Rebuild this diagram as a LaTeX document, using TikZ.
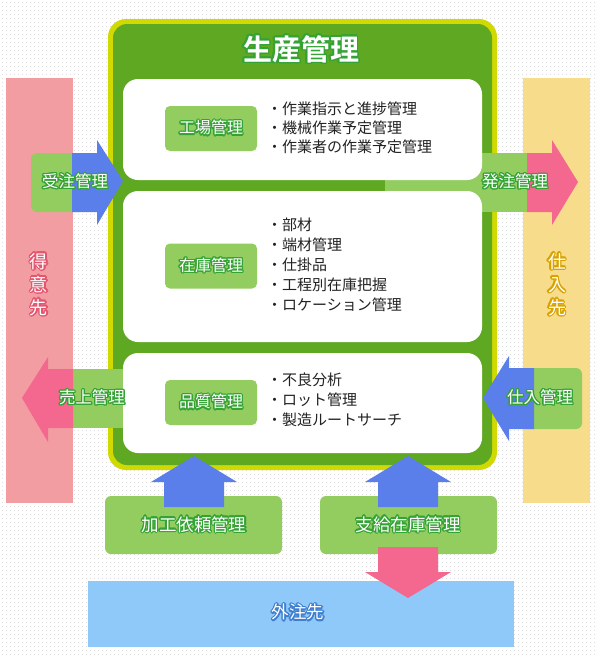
\documentclass[tikz,border=0pt]{standalone}
\usepackage{fontspec}
\setmainfont{Noto Sans CJK JP}
\newfontfamily\jpbold{Noto Sans CJK JP Bold}
\usepackage{contour}
\contournumber{16}
\contourlength{1.3pt}
\usetikzlibrary{patterns.meta}
\definecolor{frameyellow}{HTML}{D0DA00}
\definecolor{framegreen}{HTML}{5FA822}
\definecolor{labelgreen}{HTML}{93CD5F}
\definecolor{outgreen}{HTML}{34A234}
\definecolor{bluearrow}{HTML}{5A7FEB}
\definecolor{pinkarrow}{HTML}{F4678E}
\definecolor{pinkbar}{HTML}{F29DA1}
\definecolor{yellowbar}{HTML}{F7DC8C}
\definecolor{lightblue}{HTML}{8FC9FA}
\definecolor{outpink}{HTML}{E3566F}
\definecolor{outgold}{HTML}{D9A300}
\definecolor{outblue}{HTML}{3F7FCF}
\definecolor{listtext}{HTML}{222222}
\newcommand\gtext[2]{\textcolor{white}{\contour{#1}{#2}}}
\begin{document}
\begin{tikzpicture}[x=1pt,y=-1pt,
  lblbox/.style={fill=labelgreen, rounded corners=5pt, minimum width=92pt, minimum height=45pt, inner sep=0pt, font=\fontsize{16pt}{18pt}\selectfont},
  sidetext/.style={inner sep=0pt, font=\fontsize{16.5pt}{18pt}\selectfont},
  bottext/.style={inner sep=0pt, font=\fontsize{17.5pt}{20pt}\selectfont},
  listline/.style={anchor=west, inner sep=0pt, text=listtext, font=\fontsize{15pt}{18pt}\selectfont},
  vert/.style={inner sep=0pt, align=center, font=\fontsize{18pt}{23pt}\selectfont}]
\useasboundingbox (0,0) rectangle (597,657);
% background
\fill[white] (0,0) rectangle (597,657);
\fill[pattern={Dots[distance=4pt,radius=0.6pt]}, pattern color=black!18] (0,0) rectangle (597,657);
% side bars
\fill[pinkbar] (6,78) rectangle (73,503);
\fill[yellowbar] (523,78) rectangle (590,503);
% frame
\fill[frameyellow, rounded corners=18pt] (108,19) rectangle (497,470);
\fill[framegreen, rounded corners=14pt] (113,24) rectangle (492,465);
% bands behind white boxes
\fill[labelgreen] (385,153) rectangle (527,212);
\fill[labelgreen] (73,369) rectangle (130,428);
% white boxes
\fill[white, rounded corners=15pt] (123,79) rectangle (482,180);
\fill[white, rounded corners=15pt] (123,191) rectangle (482,342);
\fill[white, rounded corners=15pt] (123,353) rectangle (482,453);
% title
\node[inner sep=0pt, font=\jpbold\fontsize{29pt}{32pt}\selectfont] (title) at (301,50) {\contourlength{1.5pt}\gtext{outgreen}{生産管理}};
% label boxes
\node[lblbox] (kojo) at (211,128.5) {\gtext{outgreen}{工場管理}};
\node[lblbox] (zaiko) at (211,266) {\gtext{outgreen}{在庫管理}};
\node[lblbox] (hinshitsu) at (211,402.5) {\gtext{outgreen}{品質管理}};
% lists
\node[listline] (l11) at (267,109) {・作業指示と進捗管理};
\node[listline] (l12) at (267,128) {・機械作業予定管理};
\node[listline] (l13) at (267,147) {・作業者の作業予定管理};
\node[listline] (l21) at (267,225) {・部材};
\node[listline] (l22) at (267,245) {・端材管理};
\node[listline] (l23) at (267,265) {・仕掛品};
\node[listline] (l24) at (267,285) {・工程別在庫把握};
\node[listline] (l25) at (267,305) {・ロケーション管理};
\node[listline] (l31) at (267,380) {・不良分析};
\node[listline] (l32) at (267,400) {・ロット管理};
\node[listline] (l33) at (267,420) {・製造ルートサーチ};
% 受注管理 (left, into frame)
\fill[labelgreen, rounded corners=6pt] (31,153) rectangle (85,212);
\fill[bluearrow] (72,153) -- (97,153) -- (97,140) -- (123,181) -- (97,225) -- (97,212) -- (72,212) -- cycle;
\node[sidetext] (juchu) at (75,182) {\gtext{outgreen}{受注管理}};
% 発注管理 (right, out of frame)
\fill[pinkarrow] (527,153) -- (552,153) -- (552,140) -- (578,182) -- (552,225) -- (552,212) -- (527,212) -- cycle;
\node[sidetext] (hatchu) at (515,182) {\gtext{outgreen}{発注管理}};
% 売上管理 (left, out)
\fill[pinkarrow] (73,369) -- (48,369) -- (48,357) -- (22,398) -- (48,442) -- (48,428) -- (73,428) -- cycle;
\node[sidetext] (uriage) at (92,398) {\gtext{outgreen}{売上管理}};
% 仕入管理 (right, in)
\fill[labelgreen, rounded corners=6pt] (520,368) rectangle (582,429);
\fill[bluearrow] (534,368) -- (509,368) -- (509,356) -- (483,398) -- (509,441) -- (509,429) -- (534,429) -- cycle;
\node[sidetext] (shiire) at (540,398) {\gtext{outgreen}{仕入管理}};
% bottom
\fill[lightblue] (88,581) rectangle (514,647);
\fill[labelgreen, rounded corners=6pt] (105,496) rectangle (282,554);
\fill[labelgreen, rounded corners=6pt] (320,496) rectangle (497,554);
\fill[bluearrow] (164,507) -- (164,482) -- (151,482) -- (194,456) -- (237,482) -- (224,482) -- (224,507) -- cycle;
\fill[bluearrow] (378,507) -- (378,482) -- (365,482) -- (408,456) -- (451,482) -- (438,482) -- (438,507) -- cycle;
\fill[pinkarrow] (378,547) -- (438,547) -- (438,572) -- (451,572) -- (408,598) -- (365,572) -- (378,572) -- cycle;
\node[bottext] (kako) at (194,525) {\gtext{outgreen}{加工依頼管理}};
\node[bottext] (shikyu) at (408,525) {\gtext{outgreen}{支給在庫管理}};
\node[bottext] (gaichu) at (298,613) {\gtext{outblue}{外注先}};
% vertical side labels
\node[vert] (tokui) at (39,285) {\gtext{outpink}{得}\\\gtext{outpink}{意}\\\gtext{outpink}{先}};
\node[vert] (shiiresaki) at (557,285) {\gtext{outgold}{仕}\\\gtext{outgold}{入}\\\gtext{outgold}{先}};
\end{tikzpicture}
\end{document}
